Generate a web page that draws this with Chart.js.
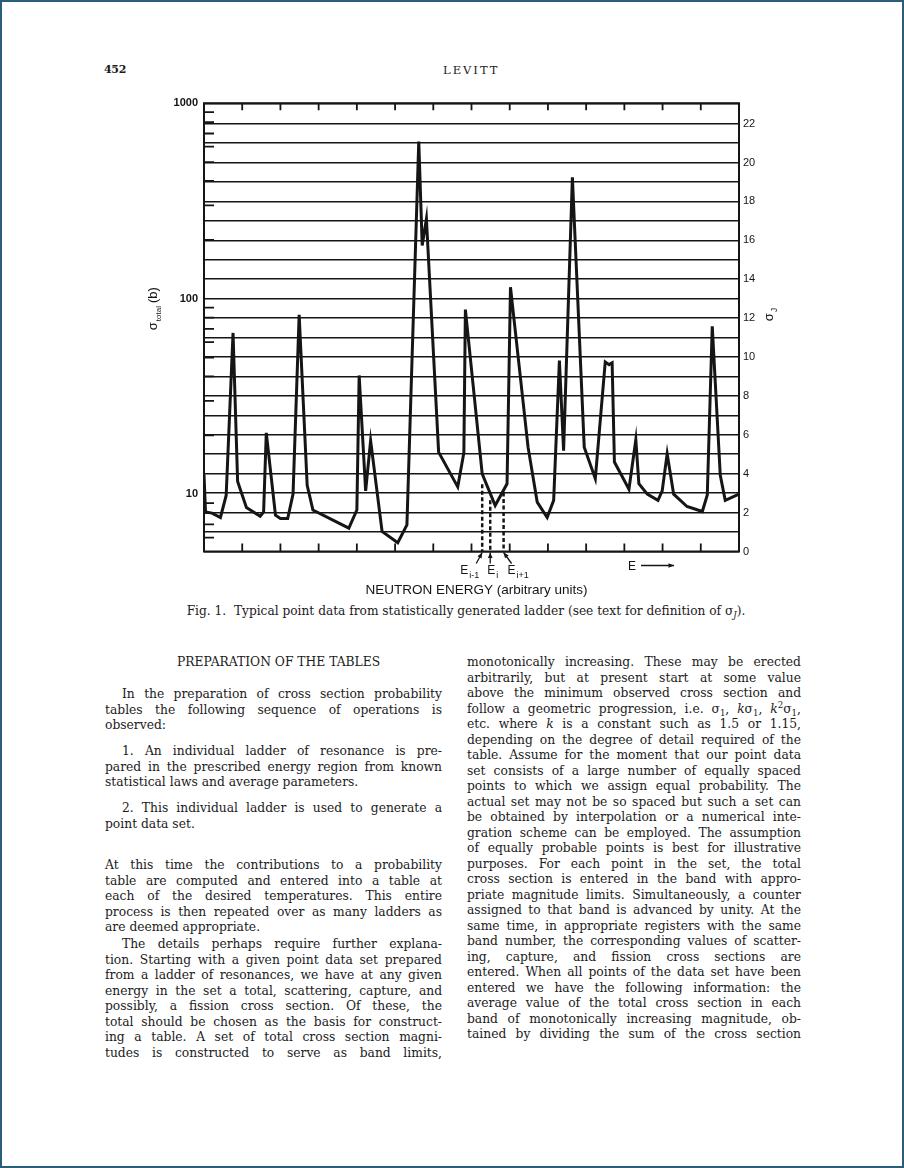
<!DOCTYPE html>
<html>
<head>
<meta charset="utf-8">
<script src="https://cdn.jsdelivr.net/npm/chart.js@4.4.1/dist/chart.umd.min.js"></script>
<style>
  html, body { margin: 0; padding: 0; background: #fff; }
  #page {
    position: relative; width: 904px; height: 1168px; box-sizing: border-box;
    border: 2px solid #2a5d7c; overflow: hidden;
    font-family: "DejaVu Serif", serif; color: #1b1b1b;
  }
  #chartBox { position: absolute; left: 100px; top: 88px; width: 700px; height: 512px; }
  .hdr { position: absolute; top: 60px; font-size: 13px; line-height: 16px; }
  #caption { position: absolute; left: 164px; width: 600px; top: 601px; font-size: 12.2px; line-height: 16px; text-align: center; }
  .para { position: absolute; font-size: 12.3px; line-height: 15.5px; }
  .para div { text-align: justify; text-align-last: justify; }
  .para div.e { text-align-last: left; }
  .ind { text-indent: 17px; }
  sub, sup { font-size: 70%; line-height: 0; }
</style>
</head>
<body>
<div id="page">
  <div class="hdr" style="left:102px;font-weight:bold;font-size:11px;letter-spacing:-0.3px;">452</div>
  <div class="hdr" style="left:441px;letter-spacing:2px;font-size:11.5px;">LEVITT</div>

  <div id="chartBox"><canvas id="c" width="700" height="512"></canvas></div>

  <div id="caption">Fig. 1.&nbsp; Typical point data from statistically generated ladder (see text for definition of σ<sub><i>J</i></sub>).</div>

  <!-- left column -->
  <div class="para" style="left:175px;top:653px;"><div class="e">PREPARATION OF THE TABLES</div></div>
  <div class="para" style="left:103px;width:337px;top:685px;">
    <div class="ind">In the preparation of cross section probability</div>
    <div>tables the following sequence of operations is</div>
    <div class="e">observed:</div>
  </div>
  <div class="para" style="left:103px;width:337px;top:742px;">
    <div class="ind">1. An individual ladder of resonance is pre-</div>
    <div>pared in the prescribed energy region from known</div>
    <div class="e">statistical laws and average parameters.</div>
  </div>
  <div class="para" style="left:103px;width:337px;top:799px;">
    <div class="ind">2. This individual ladder is used to generate a</div>
    <div class="e">point data set.</div>
  </div>
  <div class="para" style="left:103px;width:337px;top:856px;">
    <div>At this time the contributions to a probability</div>
    <div>table are computed and entered into a table at</div>
    <div>each of the desired temperatures. This entire</div>
    <div>process is then repeated over as many ladders as</div>
    <div class="e">are deemed appropriate.</div>
  </div>
  <div class="para" style="left:103px;width:337px;top:935px;">
    <div class="ind">The details perhaps require further explana-</div>
    <div>tion. Starting with a given point data set prepared</div>
    <div>from a ladder of resonances, we have at any given</div>
    <div>energy in the set a total, scattering, capture, and</div>
    <div>possibly, a fission cross section. Of these, the</div>
    <div>total should be chosen as the basis for construct-</div>
    <div>ing a table. A set of total cross section magni-</div>
    <div>tudes is constructed to serve as band limits,</div>
  </div>

  <!-- right column -->
  <div class="para" style="left:465px;width:334px;top:653px;">
    <div>monotonically increasing. These may be erected</div>
    <div>arbitrarily, but at present start at some value</div>
    <div>above the minimum observed cross section and</div>
    <div>follow a geometric progression, i.e. σ<sub>1</sub>, <i>k</i>σ<sub>1</sub>, <i>k</i><sup>2</sup>σ<sub>1</sub>,</div>
    <div>etc. where <i>k</i> is a constant such as 1.5 or 1.15,</div>
    <div>depending on the degree of detail required of the</div>
    <div>table. Assume for the moment that our point data</div>
    <div>set consists of a large number of equally spaced</div>
    <div>points to which we assign equal probability. The</div>
    <div>actual set may not be so spaced but such a set can</div>
    <div>be obtained by interpolation or a numerical inte-</div>
    <div>gration scheme can be employed. The assumption</div>
    <div>of equally probable points is best for illustrative</div>
    <div>purposes. For each point in the set, the total</div>
    <div>cross section is entered in the band with appro-</div>
    <div>priate magnitude limits. Simultaneously, a counter</div>
    <div>assigned to that band is advanced by unity. At the</div>
    <div>same time, in appropriate registers with the same</div>
    <div>band number, the corresponding values of scatter-</div>
    <div>ing, capture, and fission cross sections are</div>
    <div>entered. When all points of the data set have been</div>
    <div>entered we have the following information: the</div>
    <div>average value of the total cross section in each</div>
    <div>band of monotonically increasing magnitude, ob-</div>
    <div>tained by dividing the sum of the cross section</div>
  </div>
</div>

<script>
// Neutron energy (arbitrary units) of each point in the ladder
const energy = [
  0.00, 0.04, 0.21, 0.43, 0.58, 0.76, 0.88, 1.11, 1.47, 1.56,
  1.63, 1.87, 2.00, 2.19, 2.33, 2.49, 2.70, 2.85, 3.79, 4.00,
  4.06, 4.23, 4.36, 4.66, 5.07, 5.31, 5.62, 5.71, 5.82, 6.14,
  6.64, 6.80, 6.84, 7.28, 7.62, 7.93, 8.02, 8.48, 8.72, 8.98,
  9.15, 9.30, 9.41, 9.64, 9.95, 10.24, 10.50, 10.60, 10.68, 10.74,
  11.12, 11.30, 11.38, 11.60, 11.88, 11.99, 12.12, 12.29, 12.64, 13.04,
  13.17, 13.30, 13.51, 13.64, 14.00
];
// Total cross section (barns) at each point
const sigmaTotal = [
  12.6, 8.1, 8.0, 7.6, 9.85, 66.8, 11.6, 8.55, 7.7, 8.1,
  20.6, 7.8, 7.5, 7.5, 10.0, 82.6, 11.1, 8.3, 6.7, 8.3,
  40.5, 10.4, 18.8, 6.45, 5.64, 6.97, 637, 187, 256, 16.4,
  10.9, 16.3, 88, 12.7, 8.75, 11.3, 114.5, 17.4, 9.1, 7.6,
  9.3, 48.3, 16.7, 418, 17.4, 12.0, 47.5, 46, 47, 14.6,
  10.6, 19.0, 11.3, 10.0, 9.3, 10.4, 16.1, 10.0, 8.65, 8.15,
  9.9, 72.3, 12.5, 9.3, 10.0
];

// Marked energies E(i-1), E(i), E(i+1) and the cross section where each dashed drop starts
const markerEnergy = [7.28, 7.49, 7.84];
const markerSigma = [11.25, 9.3, 10.2];
const markerSubs = ['i-1', 'i', 'i+1'];

// Axis ranges and tick values
const sigmaMin = 5.09, sigmaMax = 1000;
const bandMax = 23.05;
const energyMax = 14;
const energyTicks = [1, 2, 3, 4, 5, 6, 7, 8, 9, 10, 11, 12, 13];
const sigmaLabels = [10, 100, 1000];
const minorMultipliers = [2, 3, 4, 5, 6, 7, 8, 9];
const bandLines = [0, 1, 2, 3, 4, 5, 6, 7, 8, 9, 10, 11, 12, 13, 14, 15, 16, 17, 18, 19, 20, 21, 22, 23];
const bandLabels = [0, 2, 4, 6, 8, 10, 12, 14, 16, 18, 20, 22];

const INK = '#151515';
const SANS = '"Liberation Sans", Arial, sans-serif';

const datasets = [{
  data: energy.map((e, i) => ({ x: e, y: sigmaTotal[i] })),
  yAxisID: 'y',
  borderColor: INK,
  borderWidth: 3,
  pointRadius: 0,
  tension: 0,
  borderJoinStyle: 'miter'
}];
markerEnergy.forEach((e, i) => {
  datasets.push({
    data: [{ x: e, y: markerSigma[i] }, { x: e, y: sigmaMin }],
    yAxisID: 'y',
    borderColor: INK,
    borderWidth: 2.5,
    borderDash: [4, 2.5],
    pointRadius: 0
  });
});

function subText(ctx, x, y, main, sub, mainFont, subFont, subDrop) {
  ctx.font = mainFont;
  ctx.fillText(main, x, y);
  const w = ctx.measureText(main).width;
  ctx.font = subFont;
  ctx.fillText(sub, x + w + 1, y + subDrop);
}

function arrow(ctx, x0, y0, x1, y1) {
  ctx.beginPath();
  ctx.moveTo(x0, y0); ctx.lineTo(x1, y1);
  ctx.stroke();
  const a = Math.atan2(y1 - y0, x1 - x0), L = 6, s = 0.4;
  ctx.beginPath();
  ctx.moveTo(x1, y1);
  ctx.lineTo(x1 - L * Math.cos(a - s), y1 - L * Math.sin(a - s));
  ctx.lineTo(x1 - L * Math.cos(a + s), y1 - L * Math.sin(a + s));
  ctx.closePath();
  ctx.fill();
}

const framePlugin = {
  id: 'frame',
  afterDraw(chart) {
    const { ctx, chartArea: a, scales } = chart;
    const xs = scales.x, ys = scales.y;
    ctx.save();
    ctx.strokeStyle = INK;
    ctx.fillStyle = INK;

    // plot frame
    ctx.lineWidth = 2;
    ctx.strokeRect(a.left, a.top, a.right - a.left, a.bottom - a.top);

    // inward energy ticks on top and bottom edges
    ctx.lineWidth = 1.8;
    ctx.beginPath();
    energyTicks.forEach(v => {
      const px = xs.getPixelForValue(v);
      ctx.moveTo(px, a.top); ctx.lineTo(px, a.top + 7);
      ctx.moveTo(px, a.bottom); ctx.lineTo(px, a.bottom - 8);
    });
    // inward minor ticks of the logarithmic cross-section axis
    for (let d = 1; d <= 100; d *= 10) {
      minorMultipliers.forEach(m => {
        const v = m * d;
        if (v <= ys.min || v >= ys.max) return;
        const py = ys.getPixelForValue(v);
        ctx.moveTo(a.left, py); ctx.lineTo(a.left + 10, py);
      });
    }
    ctx.stroke();

    // E(i-1), E(i), E(i+1) labels with arrows
    ctx.textBaseline = 'alphabetic';
    ctx.lineWidth = 1.3;
    const labelDx = [-22, -3, 4];
    const tailDx = [-6, 0, 8];
    markerEnergy.forEach((e, i) => {
      const px = xs.getPixelForValue(e);
      ctx.textAlign = 'left';
      subText(ctx, px + labelDx[i], a.bottom + 22, 'E', markerSubs[i],
        '12px ' + SANS, '9px ' + SANS, 4);
      arrow(ctx, px + tailDx[i], a.bottom + 12, px, a.bottom + 1);
    });

    // "E ——>" direction indicator
    ctx.font = '12px ' + SANS;
    ctx.textAlign = 'left';
    ctx.fillText('E', a.left + 424, a.bottom + 18);
    arrow(ctx, a.left + 437, a.bottom + 14, a.left + 470, a.bottom + 14);

    // energy axis title
    ctx.font = '13.5px ' + SANS;
    ctx.textAlign = 'center';
    ctx.fillText('NEUTRON ENERGY (arbitrary units)', (a.left + a.right) / 2 + 5, a.bottom + 42);

    // left axis title: σ_total (b)
    ctx.save();
    ctx.translate(a.left - 47, a.top + 200);
    ctx.rotate(-Math.PI / 2);
    ctx.textAlign = 'left';
    ctx.font = '13px ' + SANS;
    const s1 = 'σ';
    const w1 = ctx.measureText(s1).width;
    const total = 24 + w1 + 22;
    let cx = -total / 2;
    ctx.fillText(s1, cx, 0);
    cx += w1 + 1;
    ctx.font = '8px ' + SANS;
    ctx.fillText('total', cx, 4);
    cx += ctx.measureText('total').width + 3;
    ctx.font = '13px ' + SANS;
    ctx.fillText('(b)', cx, 0);
    ctx.restore();

    // right axis title: σ_J
    ctx.save();
    ctx.translate(a.right + 34, a.top + 212);
    ctx.rotate(-Math.PI / 2);
    ctx.textAlign = 'left';
    subText(ctx, -6, 0, 'σ', 'J', '13px ' + SANS, '9px ' + SANS, 4);
    ctx.restore();

    ctx.restore();
  }
};

new Chart(document.getElementById('c'), {
  type: 'line',
  data: { datasets },
  options: {
    responsive: false,
    animation: false,
    devicePixelRatio: 1,
    layout: { padding: { top: 13.2, bottom: 50.5, left: 0, right: 0 } },
    plugins: { legend: { display: false }, tooltip: { enabled: false } },
    scales: {
      x: { type: 'linear', min: 0, max: energyMax, display: false },
      y: {
        type: 'logarithmic', position: 'left', min: sigmaMin, max: sigmaMax,
        afterBuildTicks(s) { s.ticks = sigmaLabels.map(v => ({ value: v })); },
        afterFit(s) { s.width = 102; },
        ticks: { callback: v => String(v), color: INK, padding: 6,
                 font: { family: SANS, size: 11, weight: 'bold' } },
        grid: { display: false, drawTicks: false },
        border: { display: false }
      },
      yJ: {
        type: 'linear', position: 'right', min: 0, max: bandMax,
        afterBuildTicks(s) { s.ticks = bandLines.map(v => ({ value: v })); },
        afterFit(s) { s.width = 63; },
        ticks: { autoSkip: false, color: INK, padding: 4,
                 callback: v => bandLabels.includes(v) ? String(v) : '',
                 font: { family: SANS, size: 11 } },
        grid: { color: INK, lineWidth: 1.6, drawTicks: false },
        border: { display: false }
      }
    }
  },
  plugins: [framePlugin]
});
</script>
</body>
</html>
